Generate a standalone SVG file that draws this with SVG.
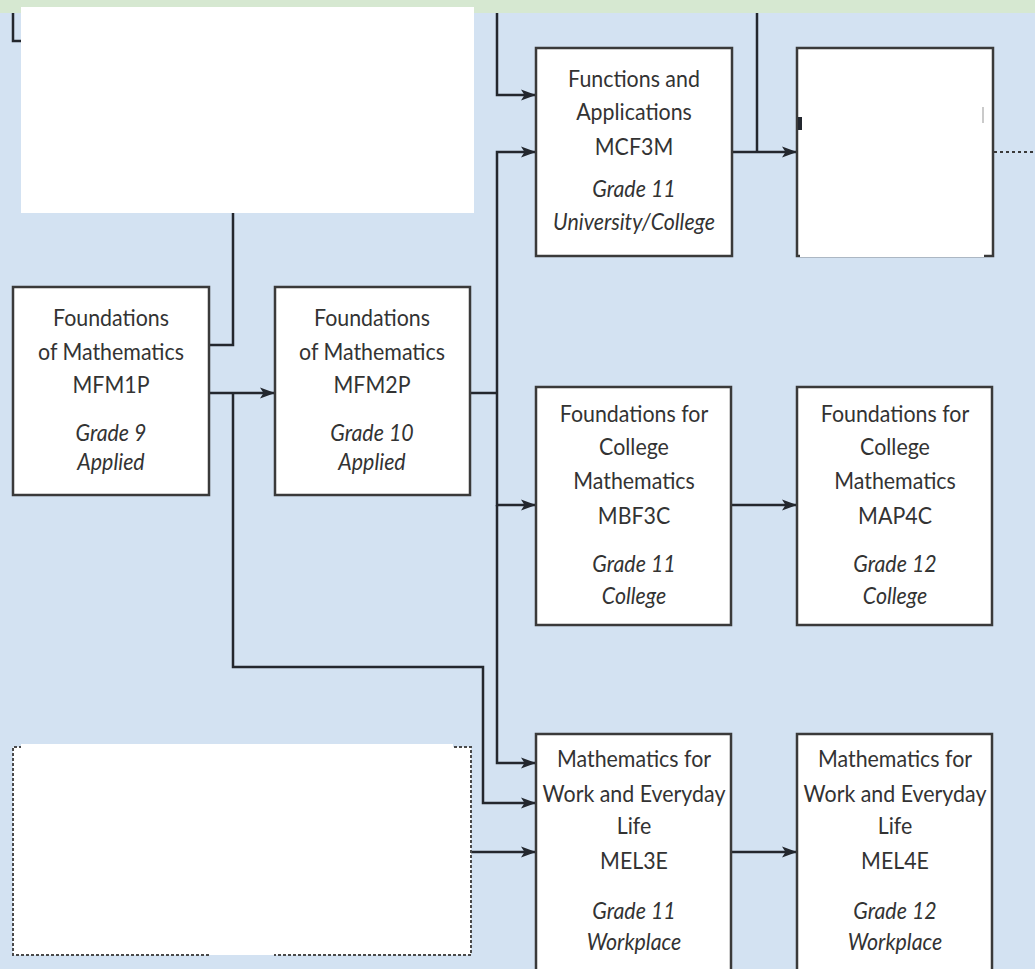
<svg xmlns="http://www.w3.org/2000/svg" width="1035" height="969" viewBox="0 0 1035 969">
<defs>
<marker id="ah" markerWidth="16" markerHeight="12" refX="15" refY="6" orient="auto" markerUnits="userSpaceOnUse">
<path d="M0,0.5 L15,6 L0,11.5 L3.5,6 Z" fill="#23272e"/>
</marker>
<style>
.bg{fill:#d3e2f2}
.box{fill:#ffffff;stroke:#3a3a3a;stroke-width:2.5}
.dbox{fill:#ffffff;stroke:#4a4a4a;stroke-width:2;stroke-dasharray:3 2}
.cover{fill:#ffffff}
.ln{fill:none;stroke:#23272e;stroke-width:2.5}
.arr{fill:none;stroke:#23272e;stroke-width:2.5;marker-end:url(#ah)}
.dot{fill:none;stroke:#3a3a3a;stroke-width:2;stroke-dasharray:3 3}
text{font-family:Lato,"Open Sans","Liberation Sans",sans-serif;font-size:23px;fill:#333333;text-anchor:middle}
.i{font-style:italic}
</style>
</defs>
<rect class="bg" x="0" y="0" width="1035" height="969"/>

<g id="connectors">
<path class="ln" d="M13,13 V41 H30"/>
<path class="ln" d="M233,200 V345 H209"/>
<path class="arr" d="M209,393 H275"/>
<path class="arr" d="M233,393 V667 H483 V803 H536"/>
<path class="arr" d="M497,13 V95 H536"/>
<path class="ln" d="M470,393 H497"/>
<path class="arr" d="M497,393 V152 H536"/>
<path class="arr" d="M497,393 V505 H536"/>
<path class="arr" d="M497,505 V763 H536"/>
<path class="arr" d="M732,152 H797"/>
<path class="ln" d="M757,13 V152"/>
<path class="dot" d="M994,152 H1035"/>
<path class="arr" d="M731,505 H797"/>
<path class="arr" d="M460,852 H536"/>
<path class="arr" d="M731,852 H797"/>
</g>

<rect x="0" y="0" width="1035" height="13" fill="#d6e8d1"/>

<g id="node-top-left-covered">
<rect class="cover" x="21" y="7" width="453" height="206"/>
</g>

<g id="node-mfm1p">
<rect class="box" x="13" y="287" width="196" height="208"/>
<text transform="translate(111,326) scale(0.93,1)">Foundations</text>
<text transform="translate(111,360) scale(0.93,1)">of Mathematics</text>
<text transform="translate(111,393) scale(0.93,1)">MFM1P</text>
<text class="i" transform="translate(111,441) scale(0.93,1)">Grade 9</text>
<text class="i" transform="translate(111,470) scale(0.93,1)">Applied</text>
</g>

<g id="node-mfm2p">
<rect class="box" x="275" y="287" width="195" height="208"/>
<text transform="translate(372,326) scale(0.93,1)">Foundations</text>
<text transform="translate(372,360) scale(0.93,1)">of Mathematics</text>
<text transform="translate(372,393) scale(0.93,1)">MFM2P</text>
<text class="i" transform="translate(372,441) scale(0.93,1)">Grade 10</text>
<text class="i" transform="translate(372,470) scale(0.93,1)">Applied</text>
</g>

<g id="node-mcf3m">
<rect class="box" x="536" y="48" width="196" height="208"/>
<text transform="translate(634,87) scale(0.93,1)">Functions and</text>
<text transform="translate(634,120) scale(0.93,1)">Applications</text>
<text transform="translate(634,155) scale(0.93,1)">MCF3M</text>
<text class="i" transform="translate(634,197) scale(0.93,1)">Grade 11</text>
<text class="i" transform="translate(634,230) scale(0.93,1)">University/College</text>
</g>

<g id="node-top-right-covered">
<rect class="box" x="797" y="48" width="196" height="208"/>
<rect class="cover" x="800" y="51" width="184" height="206"/>
<rect x="798" y="117" width="4" height="13" fill="#23272e"/>
<line x1="983" y1="107" x2="983" y2="123" stroke="#b8b8b8" stroke-width="1.5"/>
</g>

<g id="node-mbf3c">
<rect class="box" x="536" y="387" width="195" height="238"/>
<text transform="translate(634,422) scale(0.93,1)">Foundations for</text>
<text transform="translate(634,455) scale(0.93,1)">College</text>
<text transform="translate(634,489) scale(0.93,1)">Mathematics</text>
<text transform="translate(634,524) scale(0.93,1)">MBF3C</text>
<text class="i" transform="translate(634,572) scale(0.93,1)">Grade 11</text>
<text class="i" transform="translate(634,604) scale(0.93,1)">College</text>
</g>

<g id="node-map4c">
<rect class="box" x="797" y="387" width="195" height="238"/>
<text transform="translate(895,422) scale(0.93,1)">Foundations for</text>
<text transform="translate(895,455) scale(0.93,1)">College</text>
<text transform="translate(895,489) scale(0.93,1)">Mathematics</text>
<text transform="translate(895,524) scale(0.93,1)">MAP4C</text>
<text class="i" transform="translate(895,572) scale(0.93,1)">Grade 12</text>
<text class="i" transform="translate(895,604) scale(0.93,1)">College</text>
</g>

<g id="node-bottom-left-covered">
<rect x="13" y="747" width="458" height="208" fill="#ffffff"/>
<path class="dbox" d="M209,955 H13 V747 H471 V955 H274"/>
<rect class="cover" x="21" y="744" width="432" height="206"/>
<rect class="cover" x="209" y="944" width="65" height="6"/>
</g>

<g id="node-mel3e">
<rect class="box" x="536" y="734" width="195" height="240"/>
<text transform="translate(634,767) scale(0.93,1)">Mathematics for</text>
<text transform="translate(634,802) scale(0.93,1)">Work and Everyday</text>
<text transform="translate(634,834) scale(0.93,1)">Life</text>
<text transform="translate(634,869) scale(0.93,1)">MEL3E</text>
<text class="i" transform="translate(634,919) scale(0.93,1)">Grade 11</text>
<text class="i" transform="translate(634,950) scale(0.93,1)">Workplace</text>
</g>

<g id="node-mel4e">
<rect class="box" x="797" y="734" width="195" height="240"/>
<text transform="translate(895,767) scale(0.93,1)">Mathematics for</text>
<text transform="translate(895,802) scale(0.93,1)">Work and Everyday</text>
<text transform="translate(895,834) scale(0.93,1)">Life</text>
<text transform="translate(895,869) scale(0.93,1)">MEL4E</text>
<text class="i" transform="translate(895,919) scale(0.93,1)">Grade 12</text>
<text class="i" transform="translate(895,950) scale(0.93,1)">Workplace</text>
</g>
</svg>
